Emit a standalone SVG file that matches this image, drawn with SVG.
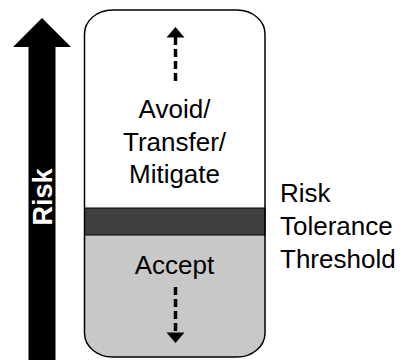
<svg xmlns="http://www.w3.org/2000/svg" width="407" height="360" viewBox="0 0 407 360">
<style>
.t{font-family:"Liberation Sans",Arial,sans-serif;font-size:26px;fill:#000}
.c{text-anchor:middle}
.dash{stroke:#000;stroke-width:3.5;stroke-dasharray:8 4;fill:none}
</style>
<rect width="407" height="360" fill="#fff"/>
<g id="risk-arrow">
<polygon points="42,18 71,47 55.5,47 55.5,360 28.5,360 28.5,47 13,47" fill="#000"/>
<text transform="translate(52,197) rotate(-90)" text-anchor="middle" style="font-family:'Liberation Sans',Arial,sans-serif;font-size:27px;font-weight:bold;fill:#fff">Risk</text>
</g>
<g id="container">
<path d="M84.5,235 H265 V333 A28,24 0 0 1 237,357 H112.5 A28,24 0 0 1 84.5,333 Z" fill="#c8c8c8"/>
<rect x="84.5" y="208" width="180.5" height="27" fill="#404040" stroke="#000" stroke-width="1"/>
<rect x="84.5" y="10" width="180.5" height="347" rx="28" ry="24" fill="none" stroke="#000" stroke-width="1.5"/>
</g>
<g id="avoid">
<text class="t c" x="174.5" y="118">Avoid/</text>
<text class="t c" x="174.5" y="151">Transfer/</text>
<text class="t c" x="174.5" y="183">Mitigate</text>
</g>
<g id="accept">
<text class="t c" x="174.5" y="274">Accept</text>
</g>
<g id="threshold">
<text class="t" x="280" y="202">Risk</text>
<text class="t" x="280" y="235">Tolerance</text>
<text class="t" x="280" y="268">Threshold</text>
</g>
<g id="connectors">
<line class="dash" x1="175.5" y1="37" x2="175.5" y2="83"/>
<polygon points="175.5,27 166.5,37.5 184.5,37.5" fill="#000"/>
<line class="dash" x1="175.5" y1="287" x2="175.5" y2="333"/>
<polygon points="166.5,332.5 184.5,332.5 175.5,343" fill="#000"/>
</g>
</svg>
